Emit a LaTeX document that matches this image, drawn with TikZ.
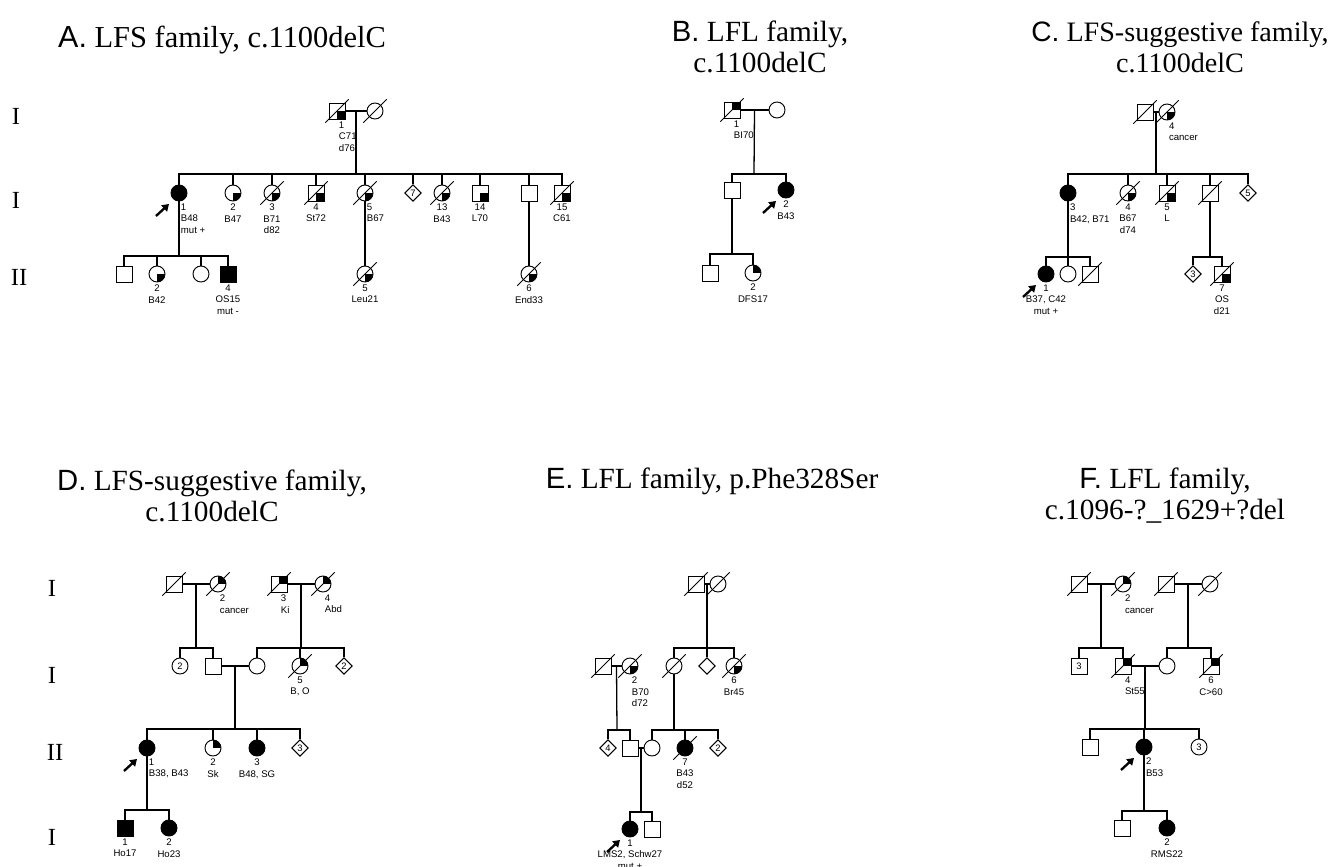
\documentclass[tikz,border=0pt]{standalone}
\usepackage{fontspec}
\setmainfont{Liberation Serif}
\setsansfont{Liberation Sans}
\usetikzlibrary{shapes.geometric,arrows.meta,calc}

\tikzset{
  sym/.style={draw, line width=0.8pt, inner sep=0pt, minimum size=0.48cm, fill=white,
    font=\sffamily\fontsize{8}{9}\selectfont},
  male/.style={sym, rectangle},
  female/.style={sym, circle},
  unknown/.style={sym, diamond, minimum size=0.5cm},
  aff/.style={fill=black},
  qbr/.style={path picture={\fill[black] (path picture bounding box.center) rectangle (path picture bounding box.south east);}},
  qtr/.style={path picture={\fill[black] (path picture bounding box.center) rectangle (path picture bounding box.north east);}},
  dead/.style={append after command={\pgfextra{\let\deadnode\tikzlastnode}
    ([shift={(-0.35cm,-0.35cm)}]\deadnode.center) edge[line width=0.8pt] ([shift={(0.35cm,0.35cm)}]\deadnode.center)}},
  proband/.style={append after command={\pgfextra{\let\pbnode\tikzlastnode}
    ([shift={(-0.69cm,-0.69cm)}]\pbnode.center) edge[-{Triangle[length=0.2cm,width=0.25cm]}, line width=0.07cm] ([shift={(-0.3cm,-0.33cm)}]\pbnode.center)}},
  lbl/.style={font=\sffamily\fontsize{8.2}{9.6}\selectfont, inner sep=2pt, align=center},
  lbll/.style={lbl, align=left, inner xsep=1.5pt},
  link/.style={line width=1.1pt},
  thicklink/.style={line width=1.8pt},
  title/.style={font=\fontsize{25}{26.5}\selectfont, align=center, inner sep=0pt},
  gen/.style={font=\fontsize{21}{21}\selectfont, inner sep=0pt}
}

\begin{document}
\begin{tikzpicture}[x=0.03cm, y=-0.03cm]
\useasboundingbox (0,0) rectangle (1331,867);

% ---------------- A. LFS family ----------------
\node[title, anchor=west, font=\fontsize{26}{27}\selectfont] (tA) at (58,40) {\textsf{A.} LFS family, c.1100delC};
\node[gen] (gA1) at (16,116) {I};
\node[gen] (gA2) at (16,200) {I};
\node[gen] (gA3) at (19,277) {II};

\node[male, qbr, dead] (aI1) at (337,111) {};
\node[female, dead] (aI2) at (375,111) {};
\node[lbll, below right] (laI1) at (aI1.south) {1\\C71\\d76};

\node[female, aff, proband] (a1) at (179,193) {};
\node[female, qbr] (a2) at (233,193) {};
\node[female, qbr, dead] (a3) at (272,193) {};
\node[male, qbr, dead] (a4) at (316,193) {};
\node[female, qbr, dead] (a5) at (365,193) {};
\node[unknown] (a6) at (413,193) {7};
\node[female, qbr, dead] (a7) at (442,193) {};
\node[male, qbr] (a8) at (480,193) {};
\node[male] (a9) at (529,193) {};
\node[male, qbr, dead] (a10) at (562,193) {};
\node[lbll, below right] (la1) at (a1.south) {1\\B48\\mut +};
\node[lbl, below] (la2) at (a2.south) {2\\B47};
\node[lbl, below] (la3) at (a3.south) {3\\B71\\d82};
\node[lbl, below] (la4) at (a4.south) {4\\St72};
\node[lbll, below right] (la5) at (a5.south) {5\\B67};
\node[lbl, below] (la7) at (a7.south) {13\\B43};
\node[lbl, below] (la8) at (a8.south) {14\\L70};
\node[lbl, below] (la10) at (a10.south) {15\\C61};

\node[male] (a11) at (124,274) {};
\node[female, qbr] (a12) at (157,274) {};
\node[female] (a13) at (201,274) {};
\node[male, aff] (a14) at (228,274) {};
\node[female, qbr, dead] (a15) at (365,274) {};
\node[female, qbr, dead] (a16) at (529,274) {};
\node[lbl, below] (la12) at (a12.south) {2\\B42};
\node[lbl, below] (la14) at (a14.south) {4\\OS15\\mut -};
\node[lbl, below] (la15) at (a15.south) {5\\Leu21};
\node[lbl, below] (la16) at (a16.south) {6\\End33};

\coordinate (sA) at (356,174);
\coordinate (sA1) at (179,256);
\draw[link] (aI1) -- (aI2);
\draw[thicklink] ($(aI1)!0.5!(aI2)$) -- (sA);
\draw[thicklink] (a1.north |- sA) -- (a10.north |- sA);
\foreach \c in {a1,a2,a3,a4,a5,a6,a7,a8,a9,a10}
  \draw[link] (\c.north) |- (sA);
\draw[thicklink] (a1.south) -- (sA1);
\foreach \c in {a11,a12,a13,a14}
  \draw[link] (\c.north) |- (sA1);
\draw[link] (a5.south) -- (a15.north);
\draw[link] (a9.south) -- (a16.north);

% ---------------- B. LFL family ----------------
\node[title] (tB) at (760,47) {\textsf{B.} LFL family,\\c.1100delC};

\node[male, qtr, dead] (bI1) at (732,110) {};
\node[female] (bI2) at (777,110) {};
\node[lbll, below right] (lbI1) at (bI1.south) {1\\BI70};
\node[male] (b1) at (732,190) {};
\node[female, aff, proband] (b2) at (786,190) {};
\node[lbl, below] (lb2) at (b2.south) {2\\B43};
\node[male] (b3) at (710,273) {};
\node[female, qtr] (b4) at (753,273) {};
\node[lbl, below] (lb4) at (b4.south) {2\\DFS17};

\coordinate (sB) at (754,174);
\coordinate (sB1) at (732,254);
\draw[link] (bI1) -- (bI2);
\draw[link] ($(bI1)!0.5!(bI2)$) -- (sB);
\foreach \c in {b1,b2}
  \draw[link] (\c.north) |- (sB);
\draw[link] (b1.south) -- (sB1);
\foreach \c in {b3,b4}
  \draw[link] (\c.north) |- (sB1);

% ---------------- C. LFS-suggestive family ----------------
\node[title, font=\fontsize{24}{26.5}\selectfont] (tC) at (1180,47) {\textsf{C.} LFS-suggestive family,\\c.1100delC};

\node[male, dead] (cI1) at (1145,112) {};
\node[female, qbr, dead] (cI2) at (1167,112) {};
\node[lbll, below right] (lcI2) at (cI2.south) {4\\cancer};

\node[female, aff] (c1) at (1068,193) {};
\node[female, qbr, dead] (c2) at (1128,193) {};
\node[male, qbr, dead] (c3) at (1167,193) {};
\node[male, dead] (c4) at (1210,193) {};
\node[unknown] (c5) at (1248,193) {5};
\node[lbll, below right] (lc1) at (c1.south) {3\\B42, B71};
\node[lbl, below] (lc2) at (c2.south) {4\\B67\\d74};
\node[lbl, below] (lc3) at (c3.south) {5\\L};

\node[female, aff, proband] (c6) at (1046,274) {};
\node[female] (c7) at (1068,274) {};
\node[male, dead] (c8) at (1090,274) {};
\node[unknown] (c9) at (1193,274) {3};
\node[male, qbr, dead] (c10) at (1222,274) {};
\node[lbl, below] (lc6) at (c6.south) {1\\B37, C42\\mut +};
\node[lbl, below] (lc10) at (c10.south) {7\\OS\\d21};

\coordinate (sC) at (1156,174);
\coordinate (sC1) at (1068,257);
\coordinate (sC2) at (1210,257);
\draw[link] (cI1) -- (cI2);
\draw[link] ($(cI1)!0.5!(cI2)$) -- (sC);
\foreach \c in {c1,c2,c3,c4,c5}
  \draw[link] (\c.north) |- (sC);
\draw[link] (c1.south) -- (sC1);
\foreach \c in {c6,c7,c8}
  \draw[link] (\c.north) |- (sC1);
\draw[link] (c4.south) -- (sC2);
\foreach \c in {c9,c10}
  \draw[link] (\c.north) |- (sC2);

% ---------------- D. LFS-suggestive family ----------------
\node[title] (tD) at (212,496) {\textsf{D.} LFS-suggestive family,\\c.1100delC};
\node[gen] (gD1) at (52,588) {I};
\node[gen] (gD2) at (52,675) {I};
\node[gen] (gD3) at (55,752) {II};
\node[gen] (gD4) at (52,837) {I};

\node[male, dead] (dI1) at (174,584) {};
\node[female, qtr, dead] (dI2) at (218,584) {};
\node[male, qtr, dead] (dI3) at (279,584) {};
\node[female, qtr, dead] (dI4) at (323,584) {};
\node[lbll, below right] (ldI2) at (dI2.south) {2\\cancer};
\node[lbll, below right] (ldI3) at (dI3.south) {3\\Ki};
\node[lbll, below right] (ldI4) at (dI4.south) {4\\Abd};

\node[female] (d1) at (180,666) {2};
\node[male] (d2) at (213,666) {};
\node[female] (d3) at (257,666) {};
\node[female, qtr, dead] (d4) at (300,666) {};
\node[unknown] (d5) at (344,666) {2};
\node[lbl, below] (ld4) at (d4.south) {5\\B, O};

\node[female, aff, proband] (d6) at (147,748) {};
\node[female, qtr] (d7) at (213,748) {};
\node[female, aff] (d8) at (257,748) {};
\node[unknown] (d9) at (300,748) {3};
\node[lbll, below right] (ld6) at (d6.south) {1\\B38, B43};
\node[lbl, below] (ld7) at (d7.south) {2\\Sk};
\node[lbl, below] (ld8) at (d8.south) {3\\B48, SG};

\node[male, aff] (d10) at (125,828) {};
\node[female, aff] (d11) at (169,828) {};
\node[lbl, below] (ld10) at (d10.south) {1\\Ho17};
\node[lbl, below] (ld11) at (d11.south) {2\\Ho23};

\coordinate (sD1) at (196,648);
\coordinate (sD2) at (301,648);
\coordinate (sD3) at (235,729);
\coordinate (sD4) at (147,810);
\draw[link] (dI1) -- (dI2);
\draw[link] (dI3) -- (dI4);
\draw[link] (d2) -- (d3);
\draw[link] ($(dI1)!0.5!(dI2)$) -- (sD1);
\draw[link] ($(dI3)!0.5!(dI4)$) -- (sD2);
\draw[link] ($(d2)!0.5!(d3)$) -- (sD3);
\foreach \c in {d1,d2}
  \draw[link] (\c.north) |- (sD1);
\foreach \c in {d3,d4,d5}
  \draw[link] (\c.north) |- (sD2);
\foreach \c in {d6,d7,d8,d9}
  \draw[link] (\c.north) |- (sD3);
\draw[link] (d6.south) -- (sD4);
\foreach \c in {d10,d11}
  \draw[link] (\c.north) |- (sD4);

% ---------------- E. LFL family ----------------
\node[title] (tE) at (712,481) {\textsf{E.} LFL family, p.Phe328Ser};

\node[male, dead] (eI1) at (696,584) {};
\node[female, dead] (eI2) at (718,584) {};

\node[male, dead] (eI3) at (603,666) {};
\node[female, qbr, dead] (eI4) at (630,666) {};
\node[female, dead] (e1) at (674,666) {};
\node[unknown] (e2) at (707,666) {};
\node[female, qbr, dead] (e3) at (734,666) {};
\node[lbll, below right] (leI4) at (eI4.south) {2\\B70\\d72};
\node[lbl, below] (le3) at (e3.south) {6\\Br45};

\node[unknown] (e4) at (608,748) {4};
\node[male] (e5) at (630,748) {};
\node[female] (e6) at (652,748) {};
\node[female, aff, dead] (e7) at (685,748) {};
\node[unknown] (e8) at (718,748) {2};
\node[lbl, below] (le7) at (e7.south) {7\\B43\\d52};

\node[female, aff, proband] (e9) at (630,829) {};
\node[male] (e10) at (652,829) {};
\node[lbl, below] (le9) at (e9.south) {1\\LMS2, Schw27\\mut +};

\coordinate (sE1) at (707,648);
\coordinate (sE2) at (617,730);
\coordinate (sE3) at (674,730);
\coordinate (sE4) at (641,812);
\draw[link] (eI1) -- (eI2);
\draw[link] (eI3) -- (eI4);
\draw[link] (e5) -- (e6);
\draw[link] ($(eI1)!0.5!(eI2)$) -- (sE1);
\draw[link] ($(eI3)!0.5!(eI4)$) -- (sE2);
\draw[link] ($(e5)!0.5!(e6)$) -- (sE4);
\foreach \c in {e1,e2,e3}
  \draw[link] (\c.north) |- (sE1);
\foreach \c in {e4,e5}
  \draw[link] (\c.north) |- (sE2);
\draw[link] (e1.south) -- (sE3);
\foreach \c in {e6,e7,e8}
  \draw[link] (\c.north) |- (sE3);
\foreach \c in {e9,e10}
  \draw[link] (\c.north) |- (sE4);

% ---------------- F. LFL family ----------------
\node[title] (tF) at (1165,496) {\textsf{F.} LFL family,\\c.1096-?\_1629+?del};

\node[male, dead] (fI1) at (1079,584) {};
\node[female, qtr, dead] (fI2) at (1123,584) {};
\node[male, dead] (fI3) at (1166,584) {};
\node[female, dead] (fI4) at (1210,584) {};
\node[lbll, below right] (lfI2) at (fI2.south) {2\\cancer};

\node[male] (f1) at (1079,666) {3};
\node[male, qtr, dead] (f2) at (1123,666) {};
\node[female] (f3) at (1167,666) {};
\node[male, qtr, dead] (f4) at (1211,666) {};
\node[lbll, below right] (lf2) at (f2.south) {4\\St55};
\node[lbl, below] (lf4) at (f4.south) {6\\C>60};

\node[male] (f5) at (1090,747) {};
\node[female, aff, proband] (f6) at (1144,747) {};
\node[female] (f7) at (1199,747) {3};
\node[lbll, below right] (lf6) at (f6.south) {2\\B53};

\node[male] (f8) at (1122,828) {};
\node[female, aff] (f9) at (1167,828) {};
\node[lbl, below] (lf9) at (f9.south) {2\\RMS22};

\coordinate (sF1) at (1101,648);
\coordinate (sF2) at (1188,648);
\coordinate (sF3) at (1145,729);
\coordinate (sF4) at (1144,811);
\draw[link] (fI1) -- (fI2);
\draw[link] (fI3) -- (fI4);
\draw[link] (f2) -- (f3);
\draw[link] ($(fI1)!0.5!(fI2)$) -- (sF1);
\draw[link] ($(fI3)!0.5!(fI4)$) -- (sF2);
\draw[link] ($(f2)!0.5!(f3)$) -- (sF3);
\foreach \c in {f1,f2}
  \draw[link] (\c.north) |- (sF1);
\foreach \c in {f3,f4}
  \draw[link] (\c.north) |- (sF2);
\foreach \c in {f5,f6,f7}
  \draw[link] (\c.north) |- (sF3);
\draw[link] (f6.south) -- (sF4);
\foreach \c in {f8,f9}
  \draw[link] (\c.north) |- (sF4);
\end{tikzpicture}
\end{document}
